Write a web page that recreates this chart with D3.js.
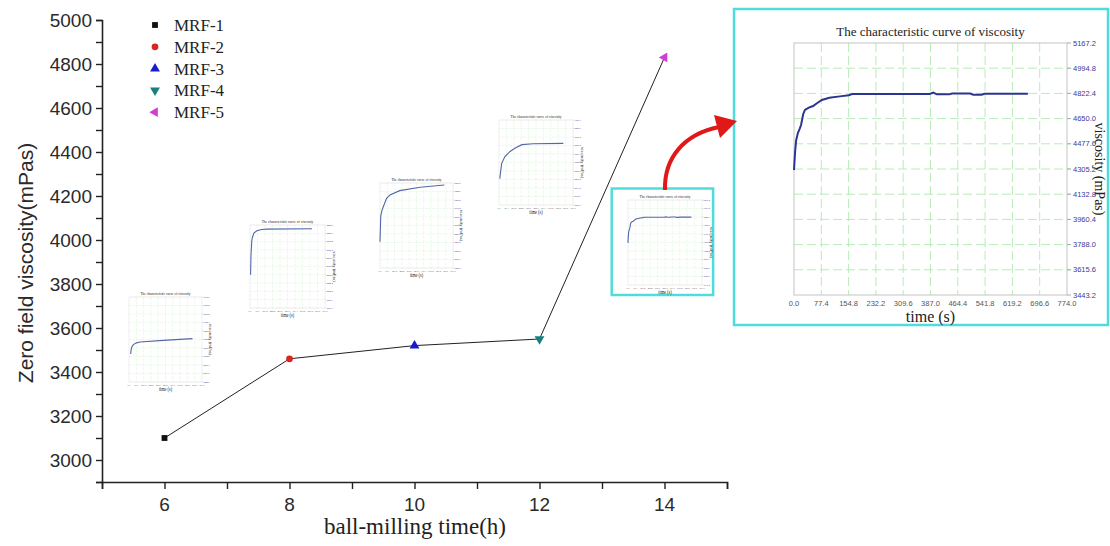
<!DOCTYPE html>
<html>
<head>
<meta charset="utf-8">
<script src="https://cdn.jsdelivr.net/npm/d3@7"></script>
<style>
  body { margin: 0; background: #fff; }
  svg { display: block; }
</style>
</head>
<body>
<svg id="chart"></svg>
<script>
// main chart data
const millTimes = [6, 8, 10, 12, 14];
const zeroFieldVisc = [3100, 3460, 3520, 3550, 4830];
const sampleNames = ["MRF-1", "MRF-2", "MRF-3", "MRF-4", "MRF-5"];
const sampleColors = ["#111111", "#dd2222", "#1a1acc", "#1a7f7f", "#d43ad4"];
const mainXTicks = [6, 8, 10, 12, 14];
const mainYTicks = [3000, 3200, 3400, 3600, 3800, 4000, 4200, 4400, 4600, 4800, 5000];

// viscosity curve insets (time in s, viscosity in mPas)
const viscTimeTicks = [0.0, 77.4, 154.8, 232.2, 309.6, 387.0, 464.4, 541.8, 619.2, 696.6, 774.0];
const bigViscTicks = [3443.2, 3615.6, 3788.0, 3960.4, 4132.8, 4305.2, 4477.6, 4650.0, 4822.4, 4994.8, 5167.2];
const bigCurveTime = [0, 3, 6, 11, 16, 20, 26, 31, 42, 54, 65, 79, 100, 130, 155, 165, 385, 395, 405, 440, 448, 500, 508, 532, 540, 663];
const bigCurveVisc = [4298, 4420, 4500, 4551, 4580, 4606, 4680, 4709, 4725, 4736, 4755, 4777, 4793, 4802, 4810, 4818, 4818, 4828, 4816, 4816, 4822, 4822, 4814, 4814, 4820, 4820];

const mini1Time = [18, 22, 30, 46, 80, 116, 364, 673];
const mini1Visc = [2790, 2870, 2930, 2980, 3015, 3032, 3066, 3101];
const mini2Time = [6, 10, 18, 23, 40, 70, 120, 170, 640];
const mini2Visc = [2504, 2900, 3200, 3268, 3370, 3417, 3445, 3452, 3460];
const mini3Time = [0, 8, 20, 35, 70, 106, 209, 426, 681];
const mini3Visc = [2371, 2889, 3000, 3078, 3251, 3320, 3406, 3475, 3520];
const mini4Time = [8, 28, 62, 116, 170, 240, 356, 673];
const mini4Visc = [2834, 3145, 3283, 3386, 3455, 3524, 3541, 3550];
const miniYRange = [[2221.6, 3945.6], [1814.0, 3538.0], [1837.0, 3561.0], [2300.0, 4024.0]];

const W = 1110, H = 546;
const svg = d3.select("#chart").attr("width", W).attr("height", H);
svg.append("rect").attr("width", W).attr("height", H).attr("fill", "#fff");

const sans = "'Liberation Sans', Arial, sans-serif";
const serif = "'Liberation Serif', 'Times New Roman', serif";

// local size of the viscosity curve plot area
const PW = 273, PH = 252;

function drawVisc(g, times, viscs, yTicks, opts) {
  const x = d3.scaleLinear().domain([0, 774]).range([0, PW]);
  const y = d3.scaleLinear().domain([yTicks[0], yTicks[yTicks.length - 1]]).range([PH, 0]);

  if (opts.framed) {
    g.append("rect")
      .attr("x", -60).attr("y", -34).attr("width", 374).attr("height", 316)
      .attr("fill", "#fff").attr("stroke", "#50dcdc").attr("stroke-width", 2.5)
      .attr("vector-effect", "non-scaling-stroke");
  } else {
    g.append("rect")
      .attr("x", -45).attr("y", -30).attr("width", 370).attr("height", 318)
      .attr("fill", "#fff");
  }

  // grid
  g.selectAll(".vg").data(viscTimeTicks.slice(1, -1)).enter().append("line")
    .attr("x1", d => x(d)).attr("x2", d => x(d)).attr("y1", 0).attr("y2", PH)
    .attr("stroke", "#b8ecb8").attr("stroke-dasharray", "9,4").attr("stroke-width", 1);
  g.selectAll(".hg").data(yTicks.slice(1, -1)).enter().append("line")
    .attr("x1", 0).attr("x2", PW + 4).attr("y1", d => y(d)).attr("y2", d => y(d))
    .attr("stroke", "#b8ecb8").attr("stroke-dasharray", "9,4").attr("stroke-width", 1);

  g.append("rect").attr("width", PW).attr("height", PH)
    .attr("fill", "none").attr("stroke", "#c4c4c4").attr("stroke-width", 1);

  // right axis tick marks and labels
  g.selectAll(".yt").data(yTicks).enter().append("line")
    .attr("x1", PW).attr("x2", PW + 4).attr("y1", d => y(d)).attr("y2", d => y(d))
    .attr("stroke", "#aaa");
  g.selectAll(".yl").data(yTicks).enter().append("text")
    .attr("x", PW + 6).attr("y", d => y(d)).attr("dy", "0.35em")
    .attr("font-family", sans).attr("font-size", 7.5).attr("fill", "#3a3aa0")
    .text(d => d.toFixed(1));
  g.selectAll(".xl").data(viscTimeTicks).enter().append("text")
    .attr("x", d => x(d)).attr("y", PH + 11).attr("text-anchor", "middle")
    .attr("font-family", sans).attr("font-size", 7.5).attr("fill", "#555")
    .text(d => d.toFixed(1));

  g.append("text").attr("x", PW / 2).attr("y", -7).attr("text-anchor", "middle")
    .attr("font-family", serif).attr("font-size", 13).attr("fill", "#222")
    .text("The characteristic curve of viscosity");
  g.append("text").attr("x", PW / 2).attr("y", PH + 27).attr("text-anchor", "middle")
    .attr("font-family", serif).attr("font-size", 16).attr("fill", "#222")
    .text("time (s)");
  g.append("text")
    .attr("transform", `translate(${PW + 28},${PH / 2}) rotate(90)`)
    .attr("text-anchor", "middle")
    .attr("font-family", serif).attr("font-size", 14).attr("fill", "#222")
    .text("viscosity (mPas)");

  const line = d3.line().x(d => x(d[0])).y(d => y(d[1]));
  g.append("path").datum(d3.zip(times, viscs))
    .attr("d", line).attr("fill", "none")
    .attr("stroke", opts.color).attr("stroke-width", opts.lw)
    .attr("vector-effect", "non-scaling-stroke");
}

function evenTicks(r) {
  return d3.range(11).map(i => +(r[0] + i * (r[1] - r[0]) / 10).toFixed(1));
}

// mini inset thumbnails: plot-area box [x, y, w, h]
const miniBoxes = [[129, 297, 73, 85], [250, 225, 75, 83], [380, 183, 73, 85], [499, 120, 74, 85]];
const miniData = [[mini1Time, mini1Visc], [mini2Time, mini2Visc], [mini3Time, mini3Visc], [mini4Time, mini4Visc]];
miniBoxes.forEach((b, i) => {
  const g = svg.append("g")
    .attr("transform", `translate(${b[0]},${b[1]}) scale(${b[2] / PW},${b[3] / PH})`);
  drawVisc(g, miniData[i][0], miniData[i][1], evenTicks(miniYRange[i]),
    { framed: false, color: "#5566a8", lw: 1.1 });
});
// the MRF-5 thumbnail with its cyan frame
{
  const g = svg.append("g")
    .attr("transform", `translate(628,200) scale(${74 / PW},${85 / PH})`);
  drawVisc(g, bigCurveTime, bigCurveVisc, bigViscTicks, { framed: true, color: "#5566a8", lw: 1.1 });
}

// enlarged inset
{
  const g = svg.append("g").attr("transform", "translate(794,43)");
  drawVisc(g, bigCurveTime, bigCurveVisc, bigViscTicks, { framed: true, color: "#2b3590", lw: 2 });
}

// red arrow from thumbnail to enlarged view
svg.append("path")
  .attr("d", "M665,190 C664,158 684,134 719,127")
  .attr("fill", "none").attr("stroke", "#e01818").attr("stroke-width", 4);
svg.append("polygon")
  .attr("points", "737,121 714,115 720,138")
  .attr("fill", "#e01818");

// main chart
const x = d3.scaleLinear().domain([5, 15]).range([102, 727]);
const y = d3.scaleLinear().domain([2900, 5000]).range([482, 20]);

const yAxis = svg.append("g").attr("transform", "translate(102,0)")
  .call(d3.axisLeft(y).tickValues(d3.range(2900, 5001, 100)).tickSize(6).tickFormat(""));
const xAxis = svg.append("g").attr("transform", "translate(0,482)")
  .call(d3.axisBottom(x).tickValues(d3.range(5, 16, 1)).tickSize(7).tickFormat(""));
[xAxis, yAxis].forEach(a => {
  a.select(".domain").attr("stroke", "#222").attr("stroke-width", 1.6);
  a.selectAll(".tick line").attr("stroke", "#222").attr("stroke-width", 1.4);
});

svg.selectAll(".ylab").data(mainYTicks).enter().append("text")
  .attr("x", 92).attr("y", d => y(d)).attr("dy", "0.36em").attr("text-anchor", "end")
  .attr("font-family", sans).attr("font-size", 19).attr("fill", "#2a2a2a")
  .text(d => d);
svg.selectAll(".xlab").data(mainXTicks).enter().append("text")
  .attr("x", d => x(d)).attr("y", 511).attr("text-anchor", "middle")
  .attr("font-family", sans).attr("font-size", 19).attr("fill", "#2a2a2a")
  .text(d => d);

svg.append("text")
  .attr("transform", "translate(33,263) rotate(-90)").attr("text-anchor", "middle")
  .attr("font-family", sans).attr("font-size", 21).attr("fill", "#2a2a2a")
  .text("Zero field viscosity(mPas)");
svg.append("text")
  .attr("x", 415).attr("y", 534).attr("text-anchor", "middle")
  .attr("font-family", serif).attr("font-size", 23).attr("fill", "#222")
  .text("ball-milling time(h)");

const pts = d3.zip(millTimes, zeroFieldVisc);
svg.append("path").datum(pts)
  .attr("d", d3.line().x(d => x(d[0])).y(d => y(d[1])))
  .attr("fill", "none").attr("stroke", "#222").attr("stroke-width", 1);

const symbols = [
  { type: d3.symbolSquare, size: 34, rot: 0 },
  { type: d3.symbolCircle, size: 36, rot: 0 },
  { type: d3.symbolTriangle, size: 42, rot: 0 },
  { type: d3.symbolTriangle, size: 42, rot: 180 },
  { type: d3.symbolTriangle, size: 42, rot: -90 }
];
svg.selectAll(".pt").data(pts).enter().append("path")
  .attr("d", (d, i) => d3.symbol(symbols[i].type, symbols[i].size)())
  .attr("transform", (d, i) => `translate(${x(d[0])},${y(d[1])}) rotate(${symbols[i].rot})`)
  .attr("fill", (d, i) => sampleColors[i]);

// legend
const leg = svg.append("g").attr("transform", "translate(155,25)");
sampleNames.forEach((name, i) => {
  leg.append("path")
    .attr("d", d3.symbol(symbols[i].type, symbols[i].size)())
    .attr("transform", `translate(0,${i * 21.8}) rotate(${symbols[i].rot})`)
    .attr("fill", sampleColors[i]);
  leg.append("text").attr("x", 19).attr("y", i * 21.8).attr("dy", "0.35em")
    .attr("font-family", serif).attr("font-size", 17).attr("fill", "#222")
    .text(name);
});
</script>
</body>
</html>
